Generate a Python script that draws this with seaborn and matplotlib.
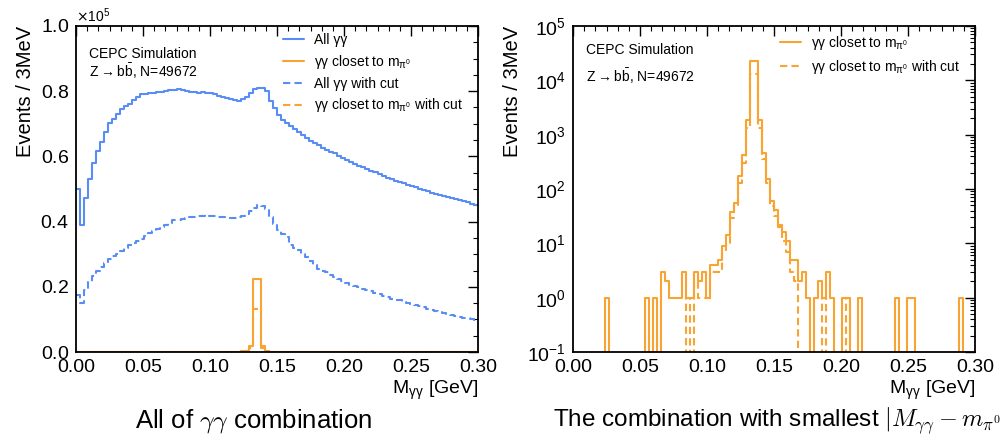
import numpy as np
import matplotlib
matplotlib.use("Agg")
import matplotlib.pyplot as plt
import seaborn as sns
from matplotlib import font_manager
from matplotlib.ticker import MultipleLocator, AutoMinorLocator, ScalarFormatter, LogLocator, NullFormatter

# ---------------- data (3 MeV bins from 0 to 0.3 GeV) ----------------
bin_edges = np.linspace(0.0, 0.3, 101)
bin_centers = 0.5 * (bin_edges[:-1] + bin_edges[1:])

# All gamma-gamma combinations (units of 1e5 events / bin)
all_gg = [
    0.499, 0.389, 0.473, 0.532, 0.580, 0.617, 0.645, 0.675, 0.701, 0.716,
    0.731, 0.744, 0.755, 0.762, 0.772, 0.783, 0.790, 0.792, 0.794, 0.796,
    0.797, 0.799, 0.802, 0.805, 0.805, 0.806, 0.803, 0.800, 0.798, 0.797,
    0.796, 0.797, 0.795, 0.794, 0.791, 0.786, 0.782, 0.779, 0.775, 0.772,
    0.771, 0.776, 0.783, 0.794, 0.808, 0.810, 0.810, 0.800, 0.770, 0.748,
    0.728, 0.712, 0.702, 0.692, 0.684, 0.675, 0.666, 0.657, 0.648, 0.641,
    0.634, 0.627, 0.621, 0.615, 0.609, 0.602, 0.596, 0.590, 0.584, 0.578,
    0.572, 0.567, 0.561, 0.556, 0.551, 0.545, 0.540, 0.535, 0.531, 0.526,
    0.521, 0.517, 0.513, 0.509, 0.505, 0.500, 0.497, 0.493, 0.489, 0.486,
    0.482, 0.479, 0.476, 0.473, 0.470, 0.466, 0.463, 0.459, 0.454, 0.451,
]

# All gamma-gamma combinations after cut (units of 1e5 events / bin)
all_gg_cut = [
    0.175, 0.150, 0.190, 0.215, 0.232, 0.250, 0.262, 0.273, 0.285, 0.293,
    0.302, 0.310, 0.318, 0.327, 0.334, 0.340, 0.348, 0.357, 0.365, 0.371,
    0.377, 0.382, 0.389, 0.397, 0.404, 0.406, 0.408, 0.410, 0.413, 0.415,
    0.417, 0.418, 0.419, 0.418, 0.416, 0.415, 0.413, 0.412, 0.411, 0.412,
    0.414, 0.418, 0.424, 0.432, 0.442, 0.450, 0.449, 0.440, 0.414, 0.394,
    0.373, 0.362, 0.352, 0.328, 0.320, 0.312, 0.300, 0.290, 0.278, 0.266,
    0.256, 0.250, 0.244, 0.236, 0.230, 0.225, 0.217, 0.211, 0.206, 0.201,
    0.198, 0.194, 0.190, 0.186, 0.181, 0.177, 0.172, 0.168, 0.164, 0.161,
    0.158, 0.154, 0.150, 0.147, 0.144, 0.140, 0.137, 0.133, 0.129, 0.125,
    0.122, 0.119, 0.116, 0.113, 0.110, 0.107, 0.105, 0.103, 0.101, 0.099,
]

# gamma-gamma pair closest to the pi0 mass (events / bin)
closest = [
    0, 0, 0, 0, 0, 0, 0, 0, 1, 0,
    0, 0, 0, 0, 0, 0, 0, 0, 1, 0,
    1, 0, 3, 2, 1, 1, 1, 3, 1, 1,
    3, 2, 3, 1, 4, 4, 5, 9, 14, 38,
    55, 170, 430, 1900, 22400, 22300, 1900, 460, 150, 59,
    41, 22, 16, 11, 5, 5, 2, 3, 1, 0,
    1, 2, 1, 3, 1, 0, 0, 1, 1, 0,
    0, 1, 0, 0, 0, 0, 0, 0, 0, 0,
    1, 0, 0, 1, 1, 0, 0, 0, 0, 0,
    0, 0, 0, 0, 0, 0, 1, 0, 0, 0,
]

# gamma-gamma pair closest to the pi0 mass, after cut (events / bin)
closest_cut = [
    0, 0, 0, 0, 0, 0, 0, 0, 0, 0,
    0, 0, 0, 0, 0, 0, 0, 0, 0, 0,
    0, 0, 0, 0, 0, 0, 0, 0, 1, 0,
    2, 1, 1, 1, 3, 3, 3, 7, 10, 29,
    51, 130, 300, 1340, 13300, 13200, 1340, 350, 130, 48,
    32, 20, 11, 7, 3, 2, 0, 0, 0, 0,
    0, 0, 1, 0, 0, 0, 0, 0, 1, 0,
    0, 0, 0, 0, 0, 0, 0, 0, 0, 0,
    0, 0, 0, 0, 0, 0, 0, 0, 0, 0,
    0, 0, 0, 0, 0, 0, 0, 0, 0, 0,
]

x_ticks = [0.00, 0.05, 0.10, 0.15, 0.20, 0.25, 0.30]

# ---------------- style ----------------
sns.set_style("white")
names = {f.name for f in font_manager.fontManager.ttflist}
base_font = "Liberation Sans"
caption_font = "Liberation Sans Narrow" if "Liberation Sans Narrow" in names else base_font
plt.rcParams["font.family"] = [base_font, "DejaVu Sans"]
plt.rcParams["axes.linewidth"] = 1.3
plt.rcParams["axes.edgecolor"] = "black"
plt.rcParams["text.color"] = "black"
plt.rcParams["axes.labelcolor"] = "black"
plt.rcParams["xtick.color"] = "black"
plt.rcParams["ytick.color"] = "black"

BLUE = "#5a8cf5"
ORANGE = "#f9a432"
LW = 1.5
DASH = (0, (3.5, 2))

fig = plt.figure(figsize=(10, 4.36), dpi=100)
ax1 = fig.add_axes([0.076, 84 / 436, 0.402, 326 / 436])
ax2 = fig.add_axes([0.573, 84 / 436, 0.402, 326 / 436])

scale = 1e5
all_gg_counts = np.array(all_gg) * scale
all_gg_cut_counts = np.array(all_gg_cut) * scale

lab_all = "All γγ"
lab_close = r"γγ closet to m$_{\mathregular{π^{0}}}$"
lab_all_cut = "All γγ with cut"
lab_close_cut = r"γγ closet to m$_{\mathregular{π^{0}}}$ with cut"

common = dict(bins=list(bin_edges), element="step", fill=False, linewidth=LW)

# left panel
sns.histplot(x=bin_centers, weights=all_gg_counts, color=BLUE, label=lab_all, ax=ax1, **common)
sns.histplot(x=bin_centers, weights=np.array(closest, float), color=ORANGE, label=lab_close, ax=ax1, **common)
sns.histplot(x=bin_centers, weights=all_gg_cut_counts, color=BLUE, linestyle=DASH,
             label=lab_all_cut, ax=ax1, **common)
sns.histplot(x=bin_centers, weights=np.array(closest_cut, float), color=ORANGE, linestyle=DASH,
             label=lab_close_cut, ax=ax1, **common)

# right panel
ax2.set_yscale("log")
sns.histplot(x=bin_centers, weights=np.array(closest, float), color=ORANGE, label=lab_close, ax=ax2, **common)
sns.histplot(x=bin_centers, weights=np.array(closest_cut, float), color=ORANGE, linestyle=DASH,
             label=lab_close_cut, ax=ax2, **common)

# axes formatting
for ax in (ax1, ax2):
    ax.set_xlim(0.0, 0.3)
    ax.set_xticks(x_ticks)
    ax.xaxis.set_major_formatter(matplotlib.ticker.FormatStrFormatter("%.2f"))
    ax.xaxis.set_minor_locator(MultipleLocator(0.05 / 6))
    ax.tick_params(which="both", direction="in", top=True, right=True)
    ax.tick_params(which="major", length=7, width=1.0, labelsize=14, pad=5)
    ax.tick_params(which="minor", length=3.5, width=0.8)
    ax.set_xlabel(r"M$_{\mathregular{γγ}}$ [GeV]", loc="right", fontsize=14, labelpad=2)
    ax.set_ylabel("Events / 3MeV", loc="top", fontsize=14.5, labelpad=4)

ax1.set_ylim(0, 1.0e5)
ax1.yaxis.set_major_locator(MultipleLocator(0.2e5))
ax1.yaxis.set_minor_locator(AutoMinorLocator(4))
fmt = ScalarFormatter(useMathText=True)
fmt.set_powerlimits((0, 0))
ax1.yaxis.set_major_formatter(fmt)
ax1.yaxis.get_offset_text().set_fontsize(10)

ax2.set_ylim(1e-1, 1e5)
ax2.yaxis.set_major_locator(LogLocator(base=10, numticks=10))
ax2.yaxis.set_minor_locator(LogLocator(base=10, subs=np.arange(2, 10), numticks=20))
ax2.yaxis.set_minor_formatter(NullFormatter())

# legends
h1, l1 = ax1.get_legend_handles_labels()
ax1.legend(h1, l1, loc="upper left", bbox_to_anchor=(0.283, 1 - 33 / 436),
           bbox_transform=fig.transFigure, frameon=False, fontsize=10,
           handlelength=1.5, handletextpad=0.7, labelspacing=0.42, borderpad=0, borderaxespad=0)
h2, l2 = ax2.get_legend_handles_labels()
ax2.legend(h2, l2, loc="upper left", bbox_to_anchor=(0.780, 1 - 34 / 436),
           bbox_transform=fig.transFigure, frameon=False, fontsize=10,
           handlelength=1.5, handletextpad=0.7, labelspacing=0.42, borderpad=0, borderaxespad=0)

# labels inside panels
zbb = r"Z$\mathregular{\rightarrow}$b$\mathregular{\bar{b}}$, N=49672"
fig.text(0.089, 1 - 54 / 436, "CEPC Simulation", fontsize=10, va="center", ha="left")
fig.text(0.089, 1 - 71 / 436, zbb, fontsize=10, va="center", ha="left")
fig.text(0.586, 1 - 50 / 436, "CEPC Simulation", fontsize=10, va="center", ha="left")
fig.text(0.586, 1 - 76 / 436, zbb, fontsize=10, va="center", ha="left")

# captions
fig.text(0.2535, 1 - 421 / 436, r"All of $\gamma\gamma$ combination", fontsize=18.5,
         ha="center", va="center", family=[caption_font, "DejaVu Sans"], math_fontfamily="cm")
fig.text(0.553, 1 - 421 / 436, r"The combination with smallest $|M_{\gamma\gamma} - m_{\pi^0}|$",
         fontsize=17.5, ha="left", va="center", family=[caption_font, "DejaVu Sans"],
         math_fontfamily="cm")

fig.savefig("out.png", dpi=100)
